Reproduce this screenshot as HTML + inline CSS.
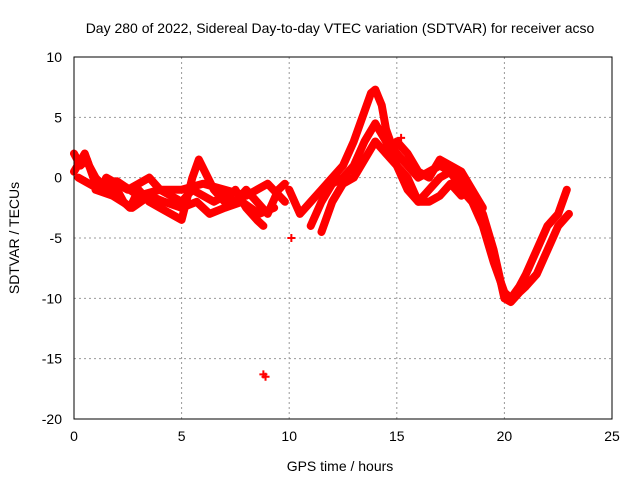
<!DOCTYPE html>
<html><head><meta charset="utf-8"><style>
body{margin:0;background:#fff}
svg{display:block;font-family:"Liberation Sans",sans-serif;font-size:14px}
</style></head><body>
<svg id="chart" width="640" height="480">
<rect width="640" height="480" fill="#fff"/>
<text x="340" y="33" text-anchor="middle">Day 280 of 2022, Sidereal Day-to-day VTEC variation (SDTVAR) for receiver acso</text>
<text x="340" y="471" text-anchor="middle">GPS time / hours</text>
<text transform="translate(19,238) rotate(-90)" text-anchor="middle">SDTVAR / TECUs</text>
<g id="grid"></g><g id="marks"></g>
<rect x="74" y="57" width="538" height="362" fill="none" stroke="#000"/>
</svg>
<script>
const xTicks=[0,5,10,15,20,25];
const yTicks=[10,5,0,-5,-10,-15,-20];
const trackA=[[0,2],[0.3,1],[0.6,1.5],[0.9,0],[1.2,-1],[1.5,0],[2,-0.5],[2.5,-1],[3,-0.5],[3.5,0],[4,-1],[4.5,-1.5],[5,-2],[5.5,-1],[6,-1.5],[6.5,-2],[7,-1.5],[7.5,-2],[8,-1],[8.5,-2],[9,-3],[9.5,-1],[9.8,-0.5]];
const trackB=[[0,0.5],[0.5,2],[0.7,1],[1,0],[1.5,-1],[2,-1],[2.3,-2],[2.6,-2.5],[3,-1],[3.5,-2],[4,-2.5],[4.5,-3],[5,-3.5],[5.5,0],[5.8,1.5],[6.5,-1],[7,-2],[7.5,-1],[8,-2.5],[8.5,-3.5],[8.8,-4]];
const trackC=[[0.2,0],[1,-0.8],[2,-0.3],[3,-1.5],[4,-1],[5,-1],[6,-0.5],[7,-1],[8,-1.5],[9,-0.5],[9.8,-2]];
const trackD=[[1,-1],[1.8,-1.5],[2.7,-2.5],[3.5,-1.5],[4.2,-2],[5,-2.5],[5.7,-2],[6.3,-3],[7,-2.5],[7.8,-2],[8.6,-3],[9.3,-2.5]];
const hump1=[[10,-1],[10.5,-3],[11,-2],[11.5,-1],[12,0],[12.5,1],[13,3],[13.5,5.5],[13.8,7],[14,7.3],[14.3,6],[14.5,4],[14.8,2.5],[15,2],[15.5,1],[16,0],[16.5,0.5],[17,1],[17.5,0.5],[18,-1],[18.5,-2],[19,-4],[19.5,-7],[20,-9.5],[20.3,-10],[20.7,-9],[21,-8],[21.5,-6],[22,-4],[22.5,-3],[22.9,-1]];
const hump2=[[11,-4],[11.5,-2],[12,-0.5],[12.5,0],[13,1],[13.5,3],[14,4.5],[14.5,3],[15,1],[15.5,0],[16,-2],[16.5,-1],[17,0],[17.5,0.5],[18,0],[18.5,-2],[19,-3],[19.5,-6],[20,-10],[20.3,-10.3],[20.7,-9.5],[21,-9],[21.5,-8],[22,-6],[22.5,-4],[23,-3]];
const hump3=[[11.5,-4.5],[12,-2],[12.5,-0.5],[13,0],[13.5,1.5],[14,3],[14.5,2],[15,1],[15.5,-1],[16,-2],[16.5,-2],[17,-1.5],[17.5,-0.5],[18,-1.5]];
const hump4=[[15,3],[15.5,2],[16,0.5],[16.5,0],[17,1.5],[17.5,1],[18,0.5],[18.5,-1],[19,-2.5]];
const isolated=[[8.8,-16.3],[8.9,-16.5],[10.1,-5],[15.2,3.3]];
const X=v=>74+v*538/25, Y=v=>57+(10-v)*362/30;
const ns="http://www.w3.org/2000/svg";
const svg=document.getElementById('chart'),grid=document.getElementById('grid'),marks=document.getElementById('marks');
function mk(t,a,p){const e=document.createElementNS(ns,t);for(const k in a)e.setAttribute(k,a[k]);p.appendChild(e);return e;}
xTicks.forEach(v=>{
 if(v>0&&v<25){const l=mk('line',{x1:X(v),x2:X(v),y1:57,y2:419,stroke:'#999','stroke-dasharray':'2,3'},grid);
 
 }
 const t=mk('text',{x:X(v),y:441,'text-anchor':'middle'},svg);t.textContent=v;
 
 
});
yTicks.forEach(v=>{
 if(v>-20&&v<10){const l=mk('line',{x1:74,x2:612,y1:Y(v),y2:Y(v),stroke:'#999','stroke-dasharray':'2,3'},grid);
 
 }
 const t=mk('text',{x:62,y:Y(v)+5,'text-anchor':'end'},svg);t.textContent=v;
 
 
});
[trackA,trackB,trackC,trackD,hump1,hump2,hump3,hump4].forEach(tr=>{
 const p=mk('polyline',{points:tr.map(d=>X(d[0])+','+Y(d[1])).join(' '),fill:'none',stroke:'#f00','stroke-width':8,'stroke-linejoin':'round','stroke-linecap':'round'},marks);
 
 
});
isolated.forEach(d=>{
 const x=X(d[0]),y=Y(d[1]);
 const p=mk('path',{d:`M${x-4},${y}H${x+4}M${x},${y-4}V${y+4}`,stroke:'#f00','stroke-width':2},marks);
 
 
});
</script>
</body></html>
